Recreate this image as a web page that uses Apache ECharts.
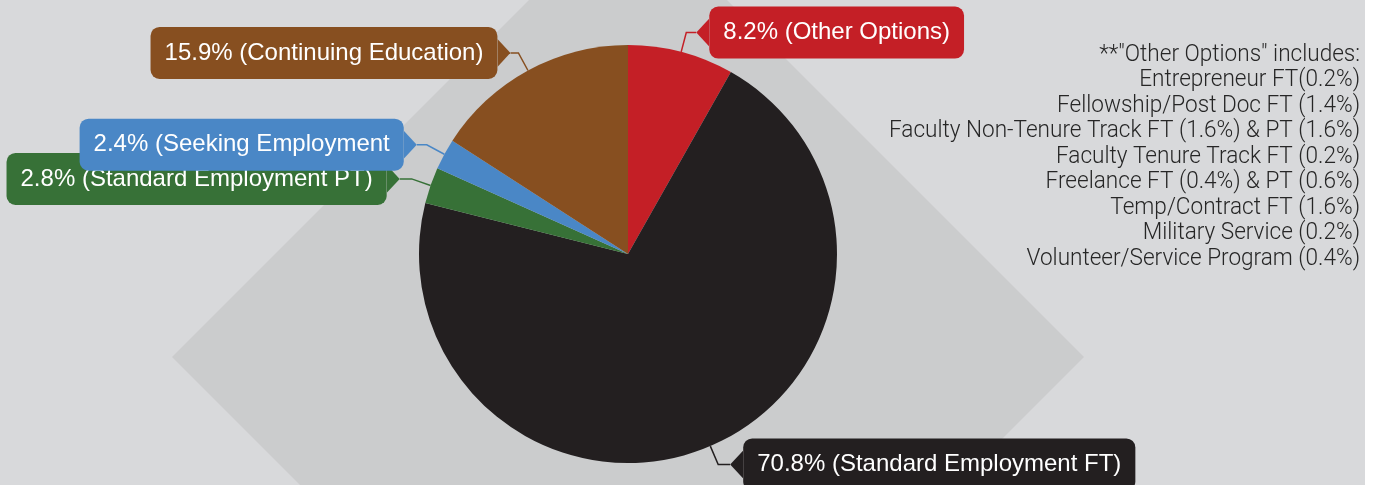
<!DOCTYPE html>
<html>
<head>
<meta charset="utf-8">
<script src="https://cdn.jsdelivr.net/npm/echarts@6/dist/echarts.min.js"></script>
<style>
  html, body { margin: 0; padding: 0; background: #ffffff; }
  #chart { width: 1376px; height: 485px; }
</style>
</head>
<body>
<div id="chart"></div>
<script>
// ---- data ----
const categories = ['Other Options', 'Standard Employment FT', 'Standard Employment PT', 'Seeking Employment', 'Continuing Education'];
const values = [8.2, 70.8, 2.8, 2.4, 15.9];
const labelNames = ['(Other Options)', '(Standard Employment FT)', '(Standard Employment PT)', '(Seeking Employment', '(Continuing Education)'];
const noteLines = [
  '**"Other Options" includes:',
  'Entrepreneur FT(0.2%)',
  'Fellowship/Post Doc FT (1.4%)',
  'Faculty Non-Tenure Track FT (1.6%) & PT (1.6%)',
  'Faculty Tenure Track FT (0.2%)',
  'Freelance FT (0.4%) & PT (0.6%)',
  'Temp/Contract FT (1.6%)',
  'Military Service (0.2%)',
  'Volunteer/Service Program (0.4%)'
];

// ---- styles ----
const colors = ['#c41f26', '#231f20', '#377137', '#4a87c6', '#874f20'];
const sides = ['right', 'right', 'left', 'left', 'left'];
const lineLen = [20, 20, 20, 20, 20];
const lineLen2 = [10, 12, 12, 10, 8];

function arrowImg(color, dir) {
  const pts = dir === 'left' ? '13,0 0,14 13,28' : '0,0 13,14 0,28';
  const svg = '<svg xmlns="http://www.w3.org/2000/svg" width="13" height="28" viewBox="0 0 13 28">' +
    '<polygon points="' + pts + '" fill="' + color + '"/></svg>';
  return 'data:image/svg+xml;charset=utf-8,' + encodeURIComponent(svg);
}

const data = categories.map((c, i) => ({
  name: c,
  value: values[i],
  itemStyle: { color: colors[i] },
  label: {
    show: true,
    formatter: sides[i] === 'right'
      ? '{a| }{t|' + values[i].toFixed(1) + '% ' + labelNames[i] + '}'
      : '{t|' + values[i].toFixed(1) + '% ' + labelNames[i] + '}{a| }',
    rich: {
      t: {
        color: '#ffffff', fontSize: 24, fontFamily: 'Liberation Sans', lineHeight: 24,
        backgroundColor: colors[i], borderRadius: 9, padding: [14, 14, 14, 14]
      },
      a: {
        width: 13, height: 28, fontSize: 10, lineHeight: 28,
        backgroundColor: { image: arrowImg(colors[i], sides[i] === 'right' ? 'left' : 'right') }
      }
    }
  },
  labelLine: { show: true, length: lineLen[i], length2: lineLen2[i], lineStyle: { color: colors[i], width: 1.5 } }
}));

const chart = echarts.init(document.getElementById('chart'), null, { renderer: 'canvas' });
chart.setOption({
  backgroundColor: '#d8d9db',
  animation: false,
  graphic: [
    { type: 'polygon', z: -10, silent: true,
      shape: { points: [[628, -99], [1084, 357], [628, 813], [172, 357]] },
      style: { fill: '#cbcccd' } },
    { type: 'rect', z: -9, silent: true,
      shape: { x: 1365, y: 0, width: 11, height: 485 },
      style: { fill: '#ffffff' } },
    { type: 'text', silent: true, x: 1360, y: 42, scaleX: 0.94,
      style: {
        text: noteLines.join('\n'), align: 'right', verticalAlign: 'top',
        font: '300 24px Roboto', lineHeight: 25.5, fill: '#262626'
      } }
  ],
  series: [{
    type: 'pie',
    center: [628, 254],
    radius: 209,
    startAngle: 90,
    clockwise: true,
    avoidLabelOverlap: false,
    minShowLabelAngle: 0,
    silent: true,
    label: { show: true, position: 'outside', alignTo: 'none', distanceToLabelLine: 0 },
    labelLine: { show: true, smooth: false },
    labelLayout: { hideOverlap: false },
    emphasis: { disabled: true },
    data: data
  }]
});
</script>
</body>
</html>
